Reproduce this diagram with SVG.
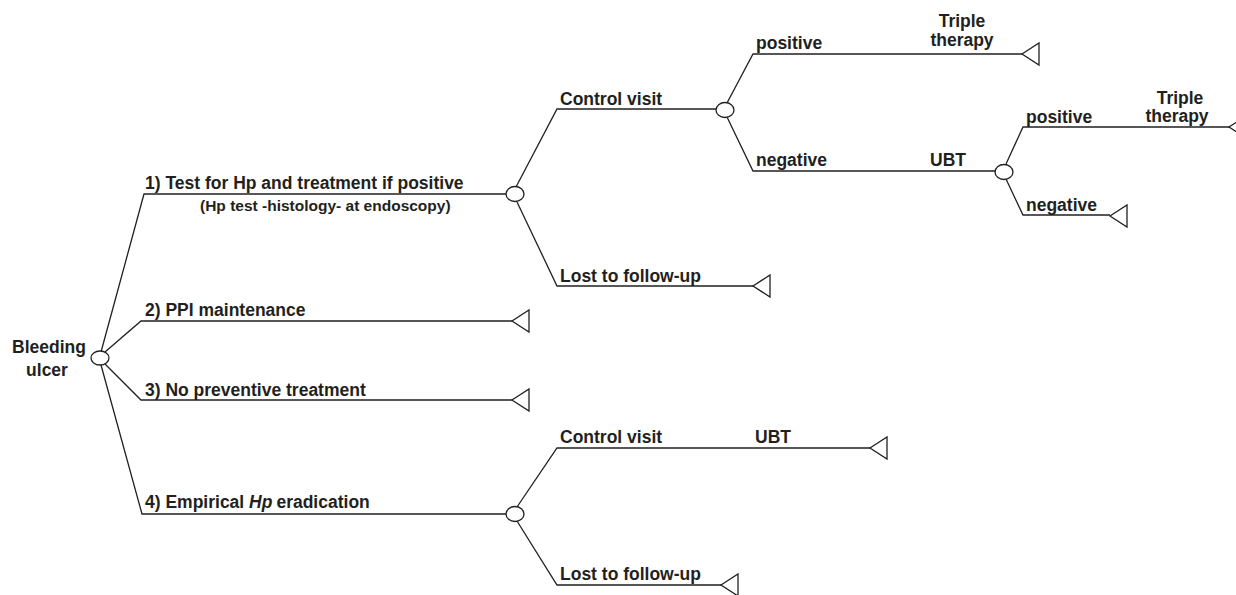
<svg xmlns="http://www.w3.org/2000/svg" width="1236" height="595" viewBox="0 0 1236 595">
<defs>
<style>
.ln{fill:none;stroke:#231f20;stroke-width:1.3}
.ch{fill:#fff;stroke:#231f20;stroke-width:1.3}
.tr{fill:#fff;stroke:#231f20;stroke-width:1.3}
.t{font-family:"Liberation Sans",Arial,sans-serif;font-weight:bold;font-size:17.5px;fill:#231f20}
.s{font-family:"Liberation Sans",Arial,sans-serif;font-weight:bold;font-size:15.5px;fill:#231f20}
.c{text-anchor:middle}
</style>
<polygon id="term" points="0,0 17,-11 17,11"/>
</defs>
<rect width="1236" height="595" fill="#fff"/>
<g id="connectors">
<polyline class="ln" points="101,352 144,194 506,194"/>
<polyline class="ln" points="105,352 141,321 512,321"/>
<polyline class="ln" points="105,364 141,400 512,400"/>
<polyline class="ln" points="101,365 142,514 506,514"/>
<polyline class="ln" points="516,187 557,109 716,109"/>
<polyline class="ln" points="517,202 557,286 753,286"/>
<polyline class="ln" points="727,103 753,54 1022,54"/>
<polyline class="ln" points="727,117 753,171 996,171"/>
<polyline class="ln" points="1006,164 1023,127 1229,127"/>
<polyline class="ln" points="1006,179 1023,215 1110,215"/>
<polyline class="ln" points="517,507 557,448 870,448"/>
<polyline class="ln" points="517,521 557,585 721,585"/>
</g>
<g id="root">
<ellipse class="ch" cx="100" cy="358" rx="9" ry="7"/>
<text class="t c" x="49" y="353">Bleeding</text>
<text class="t c" x="47" y="376">ulcer</text>
</g>
<g id="opt1">
<text class="t" x="145" y="189">1) Test for Hp and treatment if positive</text>
<text class="s" x="200" y="211">(Hp test -histology- at endoscopy)</text>
<ellipse class="ch" cx="515" cy="194" rx="9" ry="7.5"/>
</g>
<g id="opt2">
<text class="t" x="145" y="316">2) PPI maintenance</text>
<use href="#term" class="tr" x="512" y="321"/>
</g>
<g id="opt3">
<text class="t" x="145" y="396">3) No preventive treatment</text>
<use href="#term" class="tr" x="512" y="400"/>
</g>
<g id="opt4">
<text class="t" x="145" y="508">4) Empirical <tspan font-style="italic">Hp</tspan><tspan dx="4">eradication</tspan></text>
<ellipse class="ch" cx="515" cy="514" rx="9" ry="7.5"/>
</g>
<g id="control1">
<text class="t" x="560" y="105">Control visit</text>
<ellipse class="ch" cx="725" cy="110" rx="9" ry="7.5"/>
</g>
<g id="lost1">
<text class="t" x="560" y="282">Lost to follow-up</text>
<use href="#term" class="tr" x="753" y="286"/>
</g>
<g id="pos1">
<text class="t" x="756" y="49">positive</text>
<text class="t c" x="962" y="27">Triple</text>
<text class="t c" x="962" y="46">therapy</text>
<use href="#term" class="tr" x="1022" y="54"/>
</g>
<g id="neg1">
<text class="t" x="756" y="166">negative</text>
<text class="t" x="930" y="166">UBT</text>
<ellipse class="ch" cx="1004" cy="172" rx="9" ry="7.5"/>
</g>
<g id="pos2">
<text class="t" x="1026" y="123">positive</text>
<text class="t c" x="1180" y="104">Triple</text>
<text class="t c" x="1177" y="122">therapy</text>
<use href="#term" class="tr" x="1229" y="127"/>
</g>
<g id="neg2">
<text class="t" x="1026" y="211">negative</text>
<use href="#term" class="tr" x="1110" y="216"/>
</g>
<g id="control2">
<text class="t" x="560" y="443">Control visit</text>
<text class="t" x="755" y="443">UBT</text>
<use href="#term" class="tr" x="870" y="448"/>
</g>
<g id="lost2">
<text class="t" x="560" y="580">Lost to follow-up</text>
<use href="#term" class="tr" x="721" y="585"/>
</g>
</svg>
